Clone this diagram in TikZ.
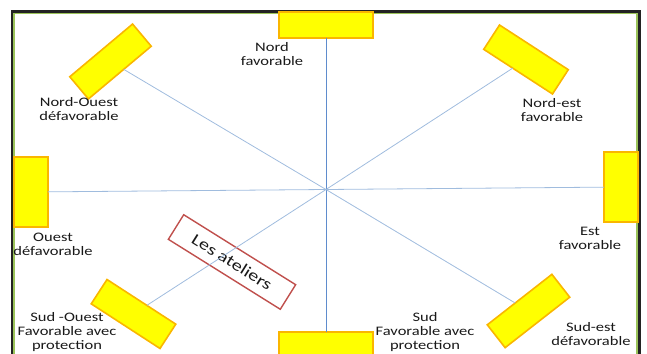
\documentclass[tikz,border=0pt]{standalone}
\usepackage{fontspec}
\setmainfont[FakeStretch=1.27]{Carlito}
\definecolor{edgeorange}{RGB}{250,182,0}
\definecolor{panelyellow}{RGB}{255,255,0}
\definecolor{raylight}{RGB}{160,188,222}
\definecolor{raydark}{RGB}{95,140,205}
\definecolor{framegreen}{RGB}{155,195,90}
\definecolor{frameblack}{RGB}{35,35,35}
\definecolor{boxred}{RGB}{192,80,77}
\definecolor{labelcol}{RGB}{25,25,25}
\begin{document}
\begin{tikzpicture}[x=1pt,y=-1pt,
  panel/.style={fill=panelyellow, draw=edgeorange, line width=1.6pt, inner sep=0pt, outer sep=0pt},
  slab/.style={panel, minimum width=82pt, minimum height=29pt},
  ray/.style={draw=raylight, line width=0.8pt},
  lbl/.style={font=\fontsize{13}{14}\selectfont, text=labelcol, align=center, inner sep=0pt},
  workshop/.style={draw=boxred, fill=white, line width=1.4pt, minimum width=132pt,
    minimum height=29pt, inner sep=0pt, outer sep=0pt,
    font=\fontsize{16}{18}\selectfont, text=labelcol}
]
\useasboundingbox (0,0) rectangle (647,353);
\clip (0,0) rectangle (647,353);

% outer frame: dark line with a green inner line
\draw[frameblack, line width=2.4pt] (12,11.5) rectangle (639.5,420);
\draw[framegreen, line width=1.6pt] (14.2,13.4) rectangle (637.2,418);

% centre of the compass
\coordinate (c) at (326,189.5);

% wind panels
\node[panel, minimum width=94pt, minimum height=26pt] (nord) at (326,25) {};
\node[panel, minimum width=94pt, minimum height=26pt] (sud) at (326,345) {};
\node[panel, minimum width=34pt, minimum height=70pt] (ouest) at (31,192) {};
\node[panel, minimum width=34pt, minimum height=70pt] (est) at (621,187) {};
\node[slab, rotate=40] (no) at (110.5,61.5) {};
\node[slab, rotate=-33] (ne) at (526,59.5) {};
\node[slab, rotate=-33] (so) at (133.5,314) {};
\node[slab, rotate=38] (se) at (528.5,311) {};

% the workshops block
\node[workshop, rotate=-32] (ateliers) at (232,262) {Les ateliers};

% rays from the centre
\draw[draw=raydark, line width=0.8pt] (nord) -- (sud);
\draw[ray] (c) -- (ouest);
\draw[ray] (c) -- (est);
\draw[ray] (c) -- (no);
\draw[ray] (c) -- (ne);
\draw[ray] (c) -- (so);
\draw[ray] (c) -- (se);

% labels
\node[lbl] (lnord) at (272,54) {Nord\\favorable};
\node[lbl] (lno) at (79,109) {Nord-Ouest\\défavorable};
\node[lbl] (lne) at (552,110) {Nord-est\\favorable};
\node[lbl] (louest) at (53,244) {Ouest\\défavorable};
\node[lbl] (lest) at (590,238.5) {Est\\favorable};
\node[lbl] (lso) at (67,332) {Sud -Ouest\\Favorable avec\\protection};
\node[lbl] (lsud) at (425,332) {Sud\\Favorable avec\\protection};
\node[lbl] (lse) at (591,334) {Sud-est\\défavorable};
\end{tikzpicture}
\end{document}
